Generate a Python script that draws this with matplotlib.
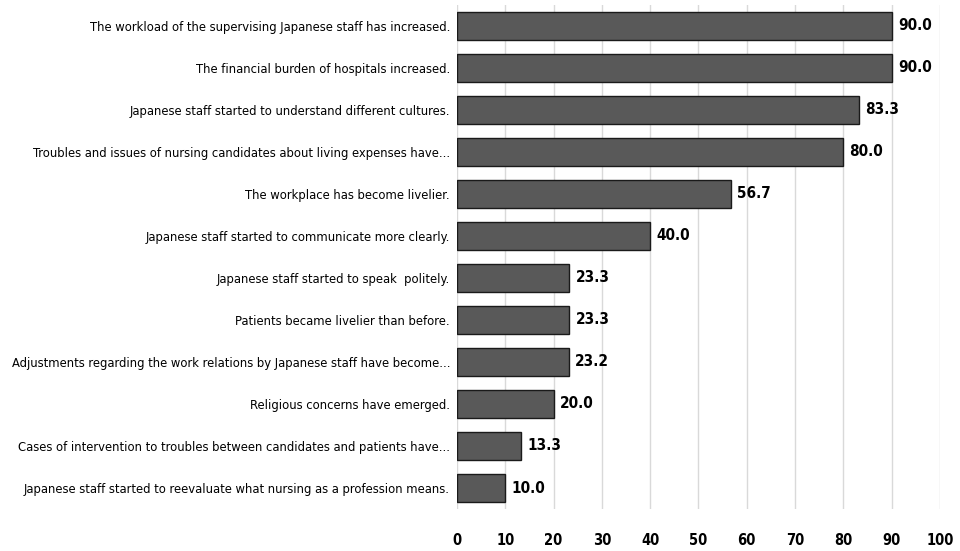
import matplotlib
matplotlib.use("Agg")
import matplotlib.pyplot as plt

categories = [
    "The workload of the supervising Japanese staff has increased.",
    "The financial burden of hospitals increased.",
    "Japanese staff started to understand different cultures.",
    "Troubles and issues of nursing candidates about living expenses have...",
    "The workplace has become livelier.",
    "Japanese staff started to communicate more clearly.",
    "Japanese staff started to speak  politely.",
    "Patients became livelier than before.",
    "Adjustments regarding the work relations by Japanese staff have become...",
    "Religious concerns have emerged.",
    "Cases of intervention to troubles between candidates and patients have...",
    "Japanese staff started to reevaluate what nursing as a profession means.",
]
values = [90.0, 90.0, 83.3, 80.0, 56.7, 40.0, 23.3, 23.3, 23.2, 20.0, 13.3, 10.0]
xticks = [0, 10, 20, 30, 40, 50, 60, 70, 80, 90, 100]

plt.rcParams['font.family'] = ['DejaVu Sans']
plt.rcParams['font.stretch'] = 'condensed'

fig = plt.figure(figsize=(9.6, 5.51), dpi=100)
ax = fig.add_axes([0.476, 0.0762, 0.503, 0.915])

pos = list(range(len(categories)))
ax.barh(pos, values, height=0.667, color="#595959", edgecolor="#1a1a1a", linewidth=1.0, zorder=3)
for p, v in zip(pos, values):
    ax.text(v + 1.3, p, f"{v:.1f}", va="center", ha="left", fontsize=11, fontweight="bold", color="black")

ax.set_yticks(pos)
ax.set_yticklabels(categories, fontsize=9.3)
ax.set_ylim(len(categories) - 0.5, -0.5)
ax.set_xlim(0, 100)
ax.set_xticks(xticks)
ax.set_xticklabels([str(t) for t in xticks], fontsize=10.5, fontweight="bold")
ax.tick_params(axis="x", length=0, pad=17)
ax.tick_params(axis="y", length=0, pad=5)
ax.grid(axis="x", color="#d9d9d9", linewidth=1.0, zorder=0)
for s in ax.spines.values():
    s.set_visible(False)

fig.savefig("out.png", dpi=100)
